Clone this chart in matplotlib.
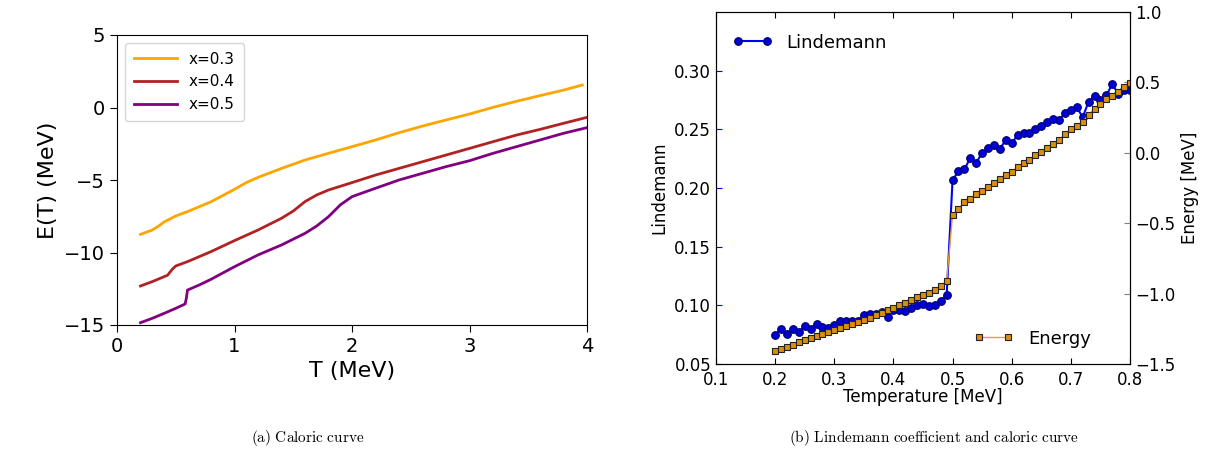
import matplotlib
matplotlib.use("Agg")
import matplotlib.pyplot as plt
import numpy as np

plt.rcParams['mathtext.fontset'] = 'cm'

# ---------------- Panel (a) data: caloric curves ----------------
T_03 = [0.2, 0.3, 0.35, 0.4, 0.5, 0.6, 0.8, 1.0, 1.1, 1.2, 1.4, 1.6, 1.8, 2.0,
        2.2, 2.4, 2.6, 2.8, 3.0, 3.2, 3.4, 3.6, 3.8, 3.96]
E_03 = [-8.75, -8.45, -8.2, -7.9, -7.48, -7.18, -6.5, -5.64, -5.18, -4.82, -4.2,
        -3.62, -3.16, -2.7, -2.24, -1.74, -1.28, -0.86, -0.45, 0.01, 0.43, 0.82,
        1.2, 1.55]

T_04 = [0.2, 0.3, 0.4, 0.43, 0.47, 0.5, 0.6, 0.8, 1.0, 1.2, 1.4, 1.5, 1.6, 1.7,
        1.8, 2.0, 2.2, 2.4, 2.6, 2.8, 3.0, 3.2, 3.4, 3.6, 3.8, 4.0]
E_04 = [-12.31, -12.01, -11.67, -11.57, -11.16, -10.93, -10.63, -9.94, -9.18,
        -8.45, -7.64, -7.14, -6.49, -6.03, -5.69, -5.18, -4.66, -4.2, -3.74,
        -3.28, -2.82, -2.36, -1.9, -1.51, -1.09, -0.68]

T_05 = [0.2, 0.3, 0.4, 0.5, 0.58, 0.59, 0.6, 0.7, 0.8, 1.0, 1.2, 1.4, 1.6, 1.7,
        1.8, 1.9, 2.0, 2.2, 2.4, 2.6, 2.8, 3.0, 3.2, 3.4, 3.6, 3.8, 4.0]
E_05 = [-14.84, -14.54, -14.2, -13.85, -13.55, -13.16, -12.59, -12.24, -11.85,
        -10.98, -10.17, -9.48, -8.68, -8.17, -7.53, -6.72, -6.15, -5.57, -5.0,
        -4.54, -4.08, -3.67, -3.16, -2.7, -2.24, -1.78, -1.39]

series_labels = ["x=0.3", "x=0.4", "x=0.5"]
series_colors = ["#FFA500", "#B22222", "#800080"]

# ---------------- Panel (b) data: Lindemann + energy ----------------
temperature = [0.20, 0.21, 0.22, 0.23, 0.24, 0.25, 0.26, 0.27, 0.28, 0.29,
               0.30, 0.31, 0.32, 0.33, 0.34, 0.35, 0.36, 0.37, 0.38, 0.39,
               0.40, 0.41, 0.42, 0.43, 0.44, 0.45, 0.46, 0.47, 0.48, 0.49,
               0.50, 0.51, 0.52, 0.53, 0.54, 0.55, 0.56, 0.57, 0.58, 0.59,
               0.60, 0.61, 0.62, 0.63, 0.64, 0.65, 0.66, 0.67, 0.68, 0.69,
               0.70, 0.71, 0.72, 0.73, 0.74, 0.75, 0.76, 0.77, 0.78, 0.79,
               0.80]
lindemann = [0.075, 0.0798, 0.0753, 0.0795, 0.0773, 0.082, 0.0795, 0.0844, 0.0818, 0.081,
             0.0835, 0.087, 0.0864, 0.087, 0.0868, 0.092, 0.0926, 0.0926, 0.0943, 0.090,
             0.0963, 0.0957, 0.0952, 0.0977, 0.1005, 0.1008, 0.0991, 0.1005, 0.104, 0.1088,
             0.207, 0.2142, 0.216, 0.2255, 0.2215, 0.230, 0.2337, 0.2366, 0.2335, 0.2408,
             0.238, 0.2454, 0.2468, 0.2468, 0.2505, 0.2528, 0.2562, 0.2585, 0.2582, 0.2636,
             0.2664, 0.2687, 0.2604, 0.2735, 0.2786, 0.2746, 0.2789, 0.2886, 0.2803, 0.2832,
             0.2837]
energy = [-1.408, -1.393, -1.377, -1.365, -1.346, -1.332, -1.318, -1.301, -1.287, -1.275,
          -1.261, -1.244, -1.23, -1.216, -1.199, -1.185, -1.171, -1.154, -1.137, -1.118,
          -1.104, -1.083, -1.064, -1.045, -1.024, -1.009, -0.993, -0.974, -0.946, -0.91,
          -0.441, -0.396, -0.351, -0.325, -0.296, -0.27, -0.242, -0.211, -0.185, -0.161,
          -0.135, -0.104, -0.073, -0.05, -0.017, 0.005, 0.031, 0.064, 0.092, 0.133,
          0.168, 0.192, 0.22, 0.27, 0.313, 0.346, 0.382, 0.403, 0.431, 0.464,
          0.495]

W, H = 1208, 459
fig = plt.figure(figsize=(W / 100, H / 100), dpi=100)

# ---------------- Panel (a) ----------------
ax1 = fig.add_axes([117 / W, 1 - 325 / H, 470 / W, 290 / H])
for Tv, Ev, lab, col in zip([T_03, T_04, T_05], [E_03, E_04, E_05],
                            series_labels, series_colors):
    ax1.plot(Tv, Ev, color=col, lw=2.0, label=lab)
ax1.set_xlim(0, 4)
ax1.set_ylim(-15, 5)
ax1.set_xticks([0, 1, 2, 3, 4])
ax1.set_yticks([-15, -10, -5, 0, 5])
ax1.tick_params(labelsize=14, length=5)
ax1.set_xlabel("T (MeV)", fontsize=16)
ax1.set_ylabel("E(T) (MeV)", fontsize=16)
leg = ax1.legend(loc="upper left", fontsize=11, fancybox=True, framealpha=0.8,
                 handlelength=2.8, borderpad=0.6)

# ---------------- Panel (b) ----------------
ax2 = fig.add_axes([716 / W, 1 - 364 / H, 414 / W, 352 / H])
l1, = ax2.plot(temperature, lindemann, '-o', color='#0000ff', lw=1.5,
               markersize=5.5, markerfacecolor='#0000dd', markeredgecolor='#000066',
               markeredgewidth=0.8, label='Lindemann')
ax2.set_xlim(0.1, 0.8)
ax2.set_ylim(0.05, 0.35)
ax2.set_xticks([0.1, 0.2, 0.3, 0.4, 0.5, 0.6, 0.7, 0.8])
ax2.set_yticks([0.05, 0.10, 0.15, 0.20, 0.25, 0.30])
ax2.tick_params(axis='x', direction='in', labelsize=12, length=4, top=True, pad=5)
ax2.tick_params(axis='y', direction='in', labelsize=12, length=4, color='blue')
ax2.set_xlabel("Temperature [MeV]", fontsize=12, labelpad=-1)
ax2.set_ylabel("Lindemann", fontsize=12)

ax3 = ax2.twinx()
l2, = ax3.plot(temperature, energy, '-s', color='#E8A030', lw=1.0,
               markersize=5, markerfacecolor='#DA8F10', markeredgecolor='#222222',
               markeredgewidth=0.8, label='Energy')
ax3.set_ylim(-1.5, 1.0)
ax3.set_yticks([-1.5, -1.0, -0.5, 0.0, 0.5, 1.0])
ax3.tick_params(axis='y', direction='in', labelsize=12, length=4, color='gray')
ax3.set_ylabel("Energy [MeV]", fontsize=12)

ax2.legend(handles=[l1], loc='upper left', frameon=False, fontsize=13,
           numpoints=2, handlelength=2.2, bbox_to_anchor=(0.0, 0.985))
ax3.legend(handles=[l2], loc='lower right', frameon=False, fontsize=13,
           numpoints=2, handlelength=2.2, bbox_to_anchor=(0.945, 0.0))

# ---------------- Captions ----------------
fig.text(308 / W, 1 - 438 / H, r"$\mathrm{(a)\ Caloric\ curve}$",
         ha='center', va='center', fontsize=11)
fig.text(934 / W, 1 - 438 / H,
         r"$\mathrm{(b)\ Lindemann\ coefficient\ and\ caloric\ curve}$",
         ha='center', va='center', fontsize=11)

fig.savefig("out.png", dpi=100)
